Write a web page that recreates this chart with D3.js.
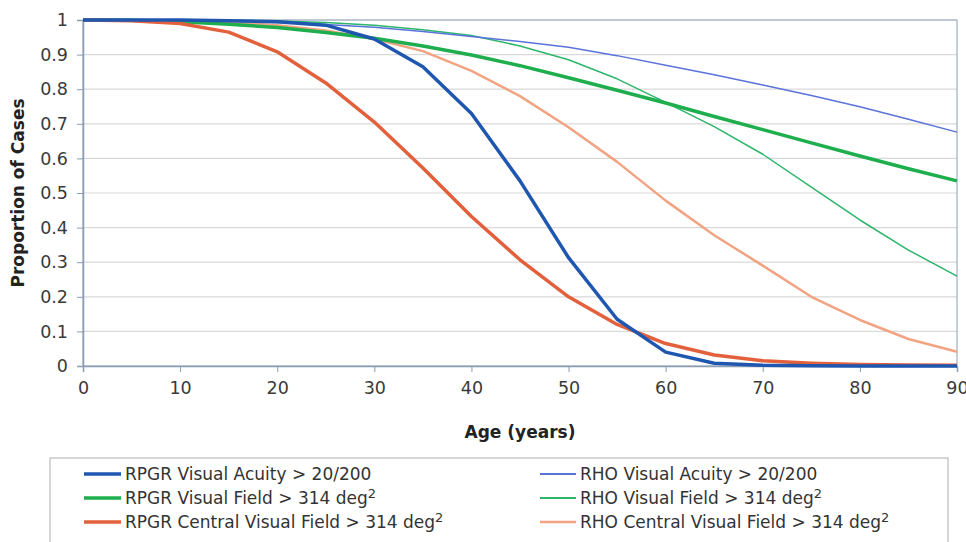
<!DOCTYPE html>
<html><head><meta charset="utf-8">
<script src="https://cdn.jsdelivr.net/npm/d3@7"></script>
<style>body{margin:0;background:#fff}text{font-family:"DejaVu Sans",Verdana,sans-serif}</style>
</head><body><svg id="c" width="966" height="542"></svg>
<script>
const ages = [0,5,10,15,20,25,30,35,40,45,50,55,60,65,70,75,80,85,90];
const rpgrVA  = [1,1,1,0.998,0.995,0.985,0.945,0.865,0.73,0.535,0.313,0.135,0.04,0.008,0.002,0.001,0,0,0];
const rpgrVF  = [1,0.999,0.995,0.988,0.978,0.964,0.947,0.925,0.899,0.868,0.833,0.797,0.760,0.721,0.683,0.645,0.607,0.57,0.535];
const rpgrCVF = [1,0.998,0.99,0.965,0.908,0.818,0.705,0.572,0.432,0.307,0.2,0.12,0.065,0.032,0.015,0.008,0.004,0.003,0.002];
const rhoVA   = [1,1,0.999,0.997,0.993,0.987,0.979,0.967,0.952,0.938,0.921,0.897,0.869,0.842,0.812,0.782,0.749,0.713,0.676];
const rhoVF   = [1,1,1,0.999,0.997,0.993,0.985,0.972,0.955,0.925,0.885,0.83,0.762,0.692,0.612,0.517,0.422,0.335,0.26];
const rhoCVF  = [1,1,0.998,0.993,0.985,0.97,0.945,0.91,0.853,0.78,0.69,0.59,0.478,0.378,0.29,0.2,0.133,0.078,0.041];
const xTicks = [0,10,20,30,40,50,60,70,80,90];
const yTicks = [0,0.1,0.2,0.3,0.4,0.5,0.6,0.7,0.8,0.9,1];
const seriesNames = ["RPGR Visual Acuity > 20/200","RPGR Visual Field > 314 deg","RPGR Central Visual Field > 314 deg",
                     "RHO Visual Acuity > 20/200","RHO Visual Field > 314 deg","RHO Central Visual Field > 314 deg"];
const seriesSup = ["", "2", "2", "", "2", "2"];
const seriesValues = [rpgrVA, rpgrVF, rpgrCVF, rhoVA, rhoVF, rhoCVF];
const colors = ["#1f57b0","#1fae4e","#e2603c","#5a72dc","#2db56a","#f2a382"];
const widths = [3.5,3.5,3.5,1.5,1.5,2.5];

const svg = d3.select("#c");
const L=83,R=957,T=20,B=366;
const x = d3.scaleLinear().domain([0,90]).range([L,R]);
const y = d3.scaleLinear().domain([0,1]).range([B,T]);

svg.append("g").selectAll("line").data(yTicks.slice(1)).join("line")
  .attr("x1",L).attr("x2",R).attr("y1",d=>y(d)).attr("y2",d=>y(d))
  .attr("stroke","#d9d9d9").attr("stroke-width",1.2);
svg.append("rect").attr("x",L).attr("y",T).attr("width",R-L).attr("height",B-T)
  .attr("fill","none").attr("stroke","#9fb0c2").attr("stroke-width",1.2);

const xa = svg.append("g").attr("transform",`translate(0,${B})`)
  .call(d3.axisBottom(x).tickValues(xTicks).tickSize(6).tickPadding(10).tickFormat(d3.format("d")));
const ya = svg.append("g").attr("transform",`translate(${L},0)`)
  .call(d3.axisLeft(y).tickValues(yTicks).tickSize(6).tickPadding(9).tickFormat(d=>d===0||d===1?String(d):d3.format(".1f")(d)));
[xa,ya].forEach(a=>{
  a.select(".domain").attr("stroke","#8a9db2").attr("stroke-width",1.5);
  a.selectAll(".tick line").attr("stroke","#8a9db2");
  a.selectAll(".tick text").attr("font-size",17.5).attr("fill","#3a3a3a").attr("font-family","DejaVu Sans, Verdana, sans-serif");
});

const line = d3.line().x((d,i)=>x(ages[i])).y(d=>y(d)).curve(d3.curveLinear);
const order=[5,4,3,1,2,0];
svg.append("g").selectAll("path").data(order).join("path")
  .attr("d",i=>line(seriesValues[i])).attr("fill","none")
  .attr("stroke",i=>colors[i]).attr("stroke-width",i=>widths[i]).attr("stroke-linejoin","round");

svg.append("text").attr("x",520).attr("y",438).attr("text-anchor","middle")
  .attr("font-size",17).attr("font-weight","bold").attr("fill","#222").text("Age (years)");
svg.append("text").attr("transform","translate(24,193) rotate(-90)").attr("text-anchor","middle")
  .attr("font-size",17).attr("font-weight","bold").attr("fill","#222").text("Proportion of Cases");

svg.append("rect").attr("x",50).attr("y",458).attr("width",898).attr("height",100)
  .attr("fill","#fff").attr("stroke","#bbb").attr("stroke-width",1.2);
const lg = svg.append("g").selectAll("g").data(seriesNames).join("g")
  .attr("transform",(d,i)=>`translate(${i<3?84:540},${474+(i%3)*24})`);
lg.append("line").attr("x1",0).attr("x2",(d,i)=>i<3?37:36).attr("y1",0).attr("y2",0)
  .attr("stroke",(d,i)=>colors[i]).attr("stroke-width",(d,i)=>i<3?3.5:(i===5?2.5:1.8));
const lt = lg.append("text").attr("x",(d,i)=>i<3?41:40).attr("y",6).attr("font-size",17).attr("fill","#333");
lt.append("tspan").text(d=>d);
lt.append("tspan").attr("dy",-6).attr("font-size",13).text((d,i)=>seriesSup[i]);
</script></body></html>
